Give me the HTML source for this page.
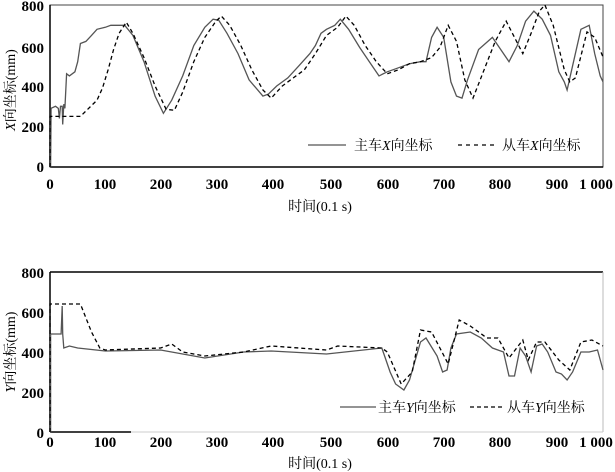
<!DOCTYPE html>
<html><head><meta charset="utf-8"><style>
html,body{margin:0;padding:0;background:#fff;width:615px;height:472px;overflow:hidden}
svg text{font-family:"Liberation Serif","Noto Serif CJK SC",serif;fill:#000}
.t{font-size:15px;font-weight:bold}
.c{font-size:14px}
</style></head><body>
<svg id="s" width="615" height="472" xmlns="http://www.w3.org/2000/svg">
<rect x="50" y="5" width="553" height="162" fill="none" stroke="#444" stroke-width="1"/>
<line x1="50" y1="5" x2="50" y2="167" stroke="#000" stroke-width="1.5"/>
<line x1="50" y1="167" x2="603" y2="167" stroke="#000" stroke-width="1.5"/>
<g class="t" text-anchor="end">
<text x="44" y="11">800</text><text x="44" y="53">600</text><text x="44" y="92">400</text><text x="44" y="132">200</text><text x="44" y="172">0</text>
</g>
<g class="t" text-anchor="middle">
<text x="50" y="189">0</text><text x="105" y="189">100</text><text x="161" y="189">200</text><text x="217" y="189">300</text><text x="273" y="189">400</text><text x="331" y="189">500</text><text x="388" y="189">600</text><text x="444" y="189">700</text><text x="500" y="189">800</text><text x="557" y="189">900</text><text x="596" y="189">1 000</text>
</g>
<text class="c" x="320" y="211" text-anchor="middle">时间(0.1 s)</text>
<text class="c" transform="translate(15,90) rotate(-90)" text-anchor="middle"><tspan font-style="italic">X</tspan>向坐标(mm)</text>
<line x1="308" y1="145" x2="346" y2="145" stroke="#555" stroke-width="1.2"/>
<text class="c" x="354" y="150">主车<tspan font-style="italic">X</tspan>向坐标</text>
<line x1="458" y1="145" x2="495" y2="145" stroke="#000" stroke-width="1.2" stroke-dasharray="4,4"/>
<text class="c" x="502" y="150">从车<tspan font-style="italic">X</tspan>向坐标</text>
<g id="top"></g>
<line x1="50" y1="272" x2="603" y2="272" stroke="#000" stroke-width="1.5"/>
<line x1="603" y1="272" x2="603" y2="432" stroke="#bbb" stroke-width="1"/>
<line x1="50" y1="432" x2="603" y2="432" stroke="#ccc" stroke-width="1"/>
<line x1="50" y1="432" x2="131" y2="432" stroke="#000" stroke-width="1.5"/>
<line x1="50" y1="272" x2="50" y2="432" stroke="#000" stroke-width="1.5"/>
<g class="t" text-anchor="end">
<text x="44" y="278">800</text><text x="44" y="318">600</text><text x="44" y="358">400</text><text x="44" y="398">200</text><text x="44" y="438">0</text>
</g>
<g class="t" text-anchor="middle">
<text x="50" y="447">0</text><text x="105" y="447">100</text><text x="161" y="447">200</text><text x="217" y="447">300</text><text x="273" y="447">400</text><text x="331" y="447">500</text><text x="388" y="447">600</text><text x="444" y="447">700</text><text x="500" y="447">800</text><text x="557" y="447">900</text><text x="596" y="447">1 000</text>
</g>
<text class="c" x="320" y="468" text-anchor="middle">时间(0.1 s)</text>
<text class="c" transform="translate(15,352) rotate(-90)" text-anchor="middle"><tspan font-style="italic">Y</tspan>向坐标(mm)</text>
<line x1="340" y1="407" x2="376" y2="407" stroke="#555" stroke-width="1.2"/>
<text class="c" x="378" y="412">主车<tspan font-style="italic">Y</tspan>向坐标</text>
<line x1="470" y1="407" x2="505" y2="407" stroke="#000" stroke-width="1.2" stroke-dasharray="4,3"/>
<text class="c" x="507" y="412">从车<tspan font-style="italic">Y</tspan>向坐标</text>
<g id="bot"></g>
</svg>
<script>
function pl(g,data,y0,dash,col){
 var pts=[];for(var i=0;i<data.length;i+=2){pts.push((50+data[i]*0.553).toFixed(1)+","+(y0-data[i+1]*(y0==167?0.2025:0.2)).toFixed(1));}
 var p=document.createElementNS("http://www.w3.org/2000/svg","polyline");
 p.setAttribute("points",pts.join(" "));p.setAttribute("fill","none");p.setAttribute("stroke",col);
 p.setAttribute("stroke-width","1.3");if(dash)p.setAttribute("stroke-dasharray","4,3");
 document.getElementById(g).appendChild(p);}
pl("top",[0,0,1,0,2,290,10,300,15,290,17,240,19,300,22,300,23,210,25,310,27,290,30,460,35,450,45,470,50,520,55,610,65,620,75,650,85,680,100,690,110,700,135,700,150,650,170,520,190,350,205,265,220,330,240,450,260,600,280,690,295,730,305,725,320,660,340,560,360,430,385,350,395,360,410,400,430,440,450,500,470,560,480,600,490,660,500,680,515,700,525,730,540,680,560,590,580,510,595,450,610,470,630,490,650,510,670,520,680,520,690,640,700,690,712,640,725,420,735,350,745,340,755,430,775,580,800,640,815,580,830,520,845,600,860,720,875,770,890,730,905,650,920,470,930,420,935,380,945,500,960,680,975,700,985,560,995,450,1000,420],167,false,"#555");
pl("top",[0,0,0,250,55,250,70,290,85,330,95,390,105,480,115,580,125,660,138,715,150,660,170,540,190,400,210,285,225,280,240,370,260,520,280,640,300,720,310,745,325,700,345,600,365,480,385,380,400,340,420,400,440,440,460,480,480,560,500,650,520,690,535,745,550,700,570,600,590,520,610,460,630,480,650,510,670,520,690,540,705,590,720,700,735,620,750,430,765,340,785,480,805,620,825,720,840,640,855,560,870,660,885,770,895,800,910,700,930,480,940,420,950,440,971,667,985,640,1000,543],167,true,"#000");
pl("bot",[0,0,1,0,1,490,20,490,22,630,23,490,25,420,35,430,50,420,100,405,200,410,280,370,350,400,400,405,500,390,600,420,605,380,615,300,625,240,640,210,650,260,670,450,680,470,700,380,710,300,718,310,725,420,735,490,760,500,780,470,800,420,820,400,830,280,840,280,850,420,860,380,870,300,880,430,890,440,900,400,915,300,925,290,935,260,945,300,960,400,975,400,990,410,1000,310],432,false,"#555");
pl("bot",[0,0,0,640,55,640,75,500,90,420,100,410,200,420,220,440,240,400,280,380,350,400,400,430,500,410,520,430,600,420,610,400,635,240,655,300,670,510,690,500,705,420,720,340,740,560,760,530,790,470,810,470,830,370,855,460,865,360,880,450,895,450,920,360,940,310,960,450,980,460,1000,430],432,true,"#000");
</script>
</body></html>
